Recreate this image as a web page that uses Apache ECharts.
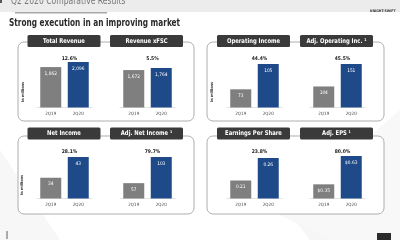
<!DOCTYPE html>
<html>
<head>
<meta charset="utf-8">
<script src="https://cdn.jsdelivr.net/npm/echarts@6/dist/echarts.min.js"></script>
<style>
  html, body { margin: 0; padding: 0; background: #fff; }
  #main { width: 400px; height: 240px; }
</style>
</head>
<body>
<div id="main"></div>
<script>
// data
var categories = ['2Q19', '2Q20'];
var metrics = ['Total Revenue', 'Revenue xFSC', 'Operating Income', 'Adj. Operating Inc. \u00b9',
               'Net Income', 'Adj. Net Income \u00b9', 'Earnings Per Share', 'Adj. EPS \u00b9'];
var values2Q19 = [1862, 1672, 73, 104, 34, 57, 0.21, 0.35];
var values2Q20 = [2096, 1764, 105, 151, 43, 103, 0.26, 0.63];
var labels2Q19 = ['1,862', '1,672', '73', '104', '34', '57', '0.21', '$0.35'];
var labels2Q20 = ['2,096', '1,764', '105', '151', '43', '103', '0.26', '$0.63'];
var changes = ['12.6%', '5.5%', '44.4%', '45.5%', '28.1%', '79.7%', '23.8%', '80.0%'];
var axisFloor = [0, 0, 50, 60, 25, 30, 0.17, 0.21];   // slide axes are truncated

var FONT = '"Liberation Sans Narrow", "DejaVu Sans Condensed", "Liberation Sans", sans-serif';
var GRAY = '#7f7f7f';
var BLUE = '#1f4a8a';

// layout
var gridLeft = [37, 120, 227, 310, 37, 120, 227, 310];
var gridTop = [62, 68, 64, 64, 157, 157, 158, 156];
var baseline = [107.5, 198.5];
var panels = [[18, 42, 176, 79], [207, 42, 177, 79], [18, 136, 176, 78], [207, 136, 177, 78]];
var headerY = [35, 127.5];

var grids = [], xAxes = [], yAxes = [], series = [], titles = [];
for (var i = 0; i < metrics.length; i++) {
    var row = i < 4 ? 0 : 1;
    grids.push({
        left: gridLeft[i], top: gridTop[i], width: 55,
        height: baseline[row] - gridTop[i]
    });
    xAxes.push({
        type: 'category', gridIndex: i, data: categories,
        axisTick: { show: false },
        axisLine: { lineStyle: { color: '#d0d0d0', width: 0.6 } },
        axisLabel: { fontSize: 4.5, color: '#444', margin: 4, fontFamily: FONT }
    });
    yAxes.push({
        type: 'value', gridIndex: i, show: false,
        min: axisFloor[i], max: 'dataMax'
    });
    (function(k) {
        series.push({
            type: 'bar', xAxisIndex: k, yAxisIndex: k, barWidth: 21, z: 5,
            data: [
                { value: values2Q19[k], itemStyle: { color: GRAY } },
                { value: values2Q20[k], itemStyle: { color: BLUE } }
            ],
            label: {
                show: true, position: 'insideTop', distance: 4,
                color: '#fff', fontSize: 4.8, fontFamily: FONT,
                formatter: function(p) {
                    return p.dataIndex === 0 ? labels2Q19[k] : labels2Q20[k];
                }
            },
            animation: false
        });
    })(i);
    titles.push({
        text: changes[i],
        left: gridLeft[i] + 27.5, top: row === 0 ? 51 : 144.5,
        textAlign: 'center',
        textStyle: { fontSize: 5, fontWeight: 'bold', color: '#222', fontFamily: FONT }
    });
}

var graphic = [];
// faint background shapes
graphic.push({ type: 'polygon', z: -10, shape: { points: [[0, 150], [60, 240], [0, 240]] }, style: { fill: '#f7f7f7' } });
graphic.push({ type: 'polygon', z: -10, shape: { points: [[230, 135], [400, 240], [310, 240]] }, style: { fill: '#f6f6f6' } });
graphic.push({ type: 'polygon', z: -10, shape: { points: [[280, 215], [400, 110], [400, 240], [330, 240]] }, style: { fill: '#f8f8f8' } });
// top band
graphic.push({ type: 'rect', z: -5, shape: { x: 0, y: 0, width: 400, height: 12 }, style: { fill: '#ececec' } });
graphic.push({ type: 'rect', shape: { x: 15, y: 12, width: 92, height: 1.5 }, style: { fill: '#a8a8a8' } });
graphic.push({ type: 'rect', shape: { x: 0, y: 0, width: 2, height: 3 }, style: { fill: '#555' } });
graphic.push({ type: 'text', x: 11, y: -4, scaleX: 0.85, style: { text: 'Q2 2020 Comparative Results', fontSize: 10, fill: '#777', fontFamily: FONT } });
graphic.push({ type: 'text', left: 370, top: 9, style: { text: 'KNIGHT-SWIFT', fontSize: 3.5, fontWeight: 'bold', fill: '#333', fontFamily: FONT } });
graphic.push({ type: 'text', x: 9, y: 18, scaleX: 0.78, style: { text: 'Strong execution in an improving market', fontSize: 10.5, fontWeight: 'bold', fill: '#2a2a2a', fontFamily: FONT } });

// panel borders
panels.forEach(function(p) {
    graphic.push({
        type: 'rect', z: -1, shape: { x: p[0], y: p[1], width: p[2], height: p[3], r: 6 },
        style: { fill: '#fff', stroke: '#9a9a9a', lineWidth: 0.8 }
    });
});

// header tabs
var headerX = [27.5, 110, 217, 300];
for (var j = 0; j < metrics.length; j++) {
    var hx = headerX[j % 4], hy = headerY[j < 4 ? 0 : 1];
    graphic.push({
        type: 'rect', shape: { x: hx, y: hy, width: 73, height: 12, r: 1.5 },
        style: { fill: '#3a3a3a' }
    });
    graphic.push({
        type: 'text', x: hx + 36.5, y: hy + 6, scaleX: 0.9,
        style: { text: metrics[j], fontSize: 6.5, fontWeight: 'bold', fill: '#fff',
                 align: 'center', verticalAlign: 'middle', fontFamily: FONT }
    });
}

// "In millions" side labels
[[23, 92], [212.5, 92], [22, 185]].forEach(function(p) {
    graphic.push({
        type: 'text', x: p[0], y: p[1], rotation: Math.PI / 2,
        style: { text: 'In millions', fontSize: 3.8, fontWeight: 'bold', fill: '#333',
                 align: 'center', verticalAlign: 'middle', fontFamily: FONT }
    });
});

// footer marks
graphic.push({ type: 'rect', shape: { x: 6, y: 231, width: 2, height: 8 }, style: { fill: '#aaa' } });
graphic.push({ type: 'rect', shape: { x: 377, y: 233, width: 14, height: 7 }, style: { fill: '#2b2b2b' } });

var myChart = echarts.init(document.getElementById('main'));
var option = {
    backgroundColor: '#fff',
    animation: false,
    title: titles,
    grid: grids,
    xAxis: xAxes,
    yAxis: yAxes,
    series: series,
    graphic: graphic
};
myChart.setOption(option);
</script>
</body>
</html>
